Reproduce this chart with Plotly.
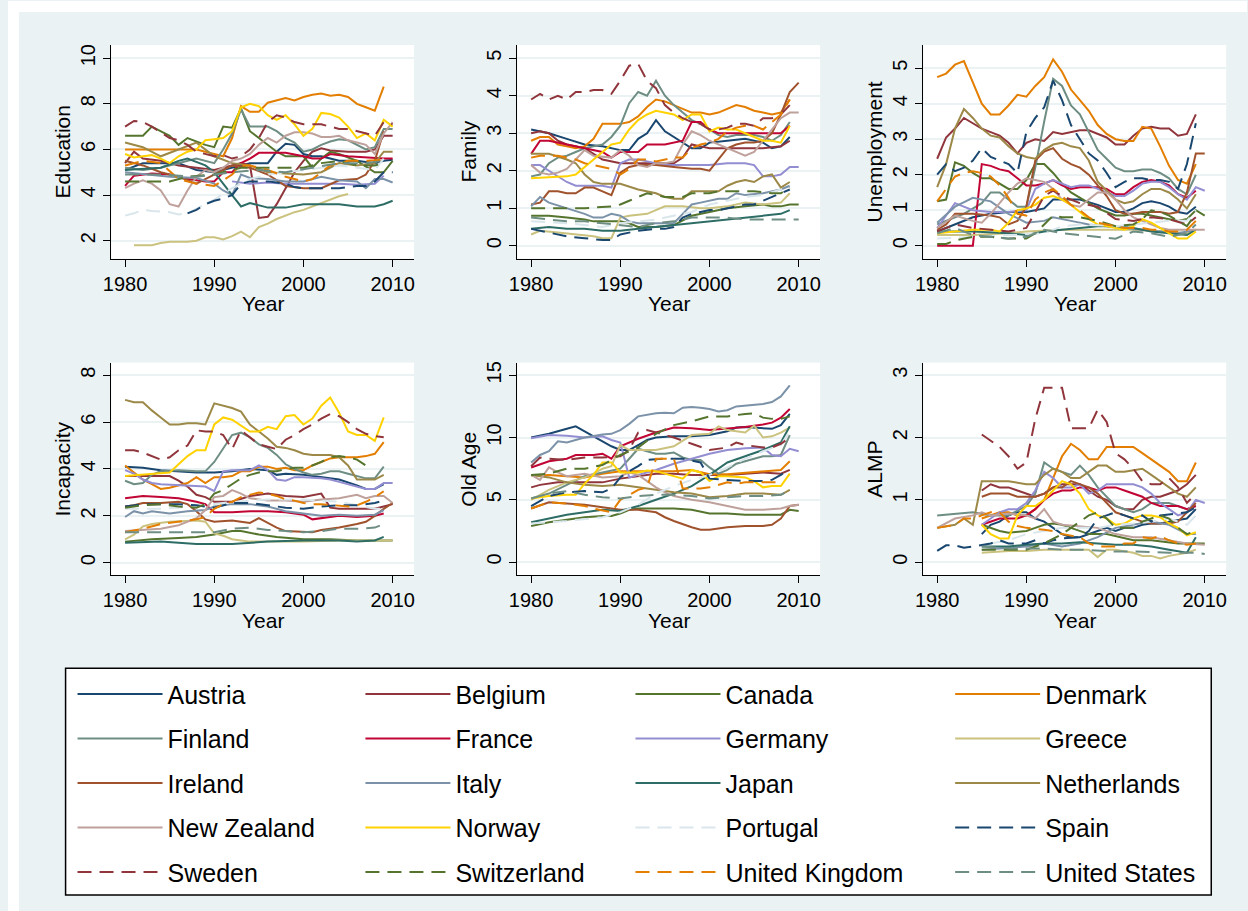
import plotly.graph_objects as go

COUNTRIES = ["Austria", "Belgium", "Canada", "Denmark", "Finland", "France", "Germany", "Greece",
             "Ireland", "Italy", "Japan", "Netherlands", "New Zealand", "Norway", "Portugal", "Spain",
             "Sweden", "Switzerland", "United Kingdom", "United States"]

COLORS = {"Austria": "#1a476f", "Belgium": "#90353b", "Canada": "#55752f", "Denmark": "#e37e00",
          "Finland": "#6e8e84", "France": "#c10534", "Germany": "#938dd2", "Greece": "#cac27e",
          "Ireland": "#a0522d", "Italy": "#7b92a8", "Japan": "#2d6d66", "Netherlands": "#9c8847",
          "New Zealand": "#bfa19c", "Norway": "#ffd200", "Portugal": "#d9e6eb", "Spain": "#1a476f",
          "Sweden": "#90353b", "Switzerland": "#55752f", "United Kingdom": "#e37e00",
          "United States": "#6e8e84"}
DASHED = {"Portugal", "Spain", "Sweden", "Switzerland", "United Kingdom", "United States"}

PANELS = ["Education", "Family", "Unemployment", "Incapacity", "Old Age", "ALMP"]
YTICKS = {"Education": [2, 4, 6, 8, 10], "Family": [0, 1, 2, 3, 4, 5], "Unemployment": [0, 1, 2, 3, 4, 5],
          "Incapacity": [0, 2, 4, 6, 8], "Old Age": [0, 5, 10, 15], "ALMP": [0, 1, 2, 3]}
YRANGE = {"Education": [1.21, 10.58], "Family": [-0.346, 5.354], "Unemployment": [-0.366, 5.656],
          "Incapacity": [-0.54, 8.54], "Old Age": [-1.07, 16.02], "ALMP": [-0.213, 3.204]}
XTICKS = [1980, 1990, 2000, 2010]

EDUCATION = {
    "Austria": [(1980, 5.1), (1982, 5.4), (1986, 5.4), (1988, 5.1), (1990, 5.0), (1992, 5.2), (1994, 5.4), (1996, 5.4), (1997, 5.9), (1998, 6.25), (1999, 6.2), (2000, 5.8), (2001, 5.7), (2002, 5.7), (2003, 5.6), (2004, 5.5), (2006, 5.5), (2008, 5.4), (2009, 5.5), (2010, 5.55)],
    "Belgium": [(1980, 5.4), (1981, 5.9), (1982, 5.6), (1984, 5.5), (1986, 5.3), (1988, 5.2), (1990, 5.1), (1992, 5.3), (1993, 5.4), (1994, 5.3), (1995, 3.0), (1996, 3.05), (1997, 3.6), (1998, 4.3), (1999, 5.0), (2000, 5.5), (2001, 5.9), (2002, 6.05), (2003, 5.95), (2005, 5.9), (2007, 5.9), (2008, 6.0), (2009, 6.6), (2010, 6.6)],
    "Canada": [(1980, 6.6), (1982, 6.6), (1983, 7.0), (1985, 6.6), (1986, 6.2), (1987, 6.5), (1989, 6.2), (1990, 6.1), (1991, 7.0), (1992, 6.95), (1993, 7.8), (1994, 6.8), (1995, 6.5), (1996, 6.2), (1997, 5.9), (1998, 5.7), (2000, 5.7), (2001, 5.2), (2002, 5.6), (2003, 5.9), (2004, 5.8), (2006, 5.5), (2008, 5.0), (2009, 5.0), (2010, 5.5)],
    "Denmark": [(1980, 6.0), (1985, 6.0), (1988, 6.0), (1990, 5.8), (1991, 5.7), (1992, 6.5), (1993, 7.9), (1994, 7.65), (1995, 7.65), (1996, 8.05), (1997, 8.15), (1998, 8.25), (1999, 8.15), (2000, 8.3), (2001, 8.4), (2002, 8.45), (2003, 8.35), (2004, 8.4), (2005, 8.3), (2006, 8.0), (2007, 7.85), (2008, 7.7), (2009, 8.75)],
    "Finland": [(1980, 5.2), (1982, 5.1), (1984, 5.2), (1986, 5.4), (1988, 5.6), (1990, 5.4), (1991, 6.0), (1992, 6.7), (1993, 7.75), (1994, 7.0), (1995, 7.0), (1996, 7.0), (1997, 6.8), (1998, 6.5), (1999, 6.3), (2000, 5.9), (2001, 6.0), (2002, 6.2), (2003, 6.35), (2004, 6.45), (2005, 6.4), (2006, 6.2), (2007, 6.0), (2008, 6.1), (2009, 6.9), (2010, 6.9)],
    "France": [(1980, 4.4), (1981, 4.85), (1983, 4.95), (1985, 4.9), (1987, 4.7), (1989, 4.6), (1990, 4.6), (1991, 5.0), (1992, 5.0), (1993, 5.4), (1994, 5.6), (1995, 5.85), (1996, 5.85), (1998, 5.85), (2000, 5.7), (2001, 5.6), (2002, 5.6), (2003, 5.8), (2005, 5.7), (2007, 5.65), (2008, 5.6), (2009, 5.6), (2010, 5.6)],
    "Germany": [(1992, 4.6), (1994, 4.5), (1996, 4.55), (1998, 4.5), (2000, 4.5), (2002, 4.5), (2004, 4.5), (2006, 4.45), (2008, 4.5), (2009, 4.85)],
    "Greece": [(1981, 1.8), (1983, 1.8), (1984, 1.9), (1985, 1.95), (1987, 1.95), (1988, 2.0), (1989, 2.15), (1990, 2.15), (1991, 2.05), (1992, 2.2), (1993, 2.4), (1994, 2.15), (1995, 2.6), (1996, 2.75), (1997, 2.95), (1998, 3.1), (1999, 3.25), (2000, 3.35), (2001, 3.5), (2002, 3.65), (2003, 3.8), (2004, 3.95), (2005, 4.05)],
    "Ireland": [(1980, 5.5), (1982, 5.3), (1984, 5.0), (1986, 4.8), (1988, 4.5), (1990, 4.9), (1992, 5.3), (1994, 5.2), (1996, 4.9), (1998, 4.4), (2000, 4.3), (2002, 4.3), (2004, 4.65), (2006, 4.7), (2007, 4.9), (2008, 5.5), (2009, 6.8)],
    "Italy": [(1980, 5.0), (1985, 4.8), (1988, 4.75), (1990, 4.5), (1991, 4.2), (1992, 4.0), (1993, 4.9), (1994, 4.75), (1996, 4.7), (1998, 4.6), (2000, 4.6), (2002, 4.8), (2004, 4.65), (2006, 4.6), (2007, 4.3), (2008, 4.7), (2009, 4.7), (2010, 4.55)],
    "Japan": [(1980, 5.1), (1984, 5.2), (1986, 5.5), (1987, 5.6), (1989, 5.3), (1990, 5.0), (1992, 4.0), (1993, 3.5), (1994, 3.65), (1995, 3.55), (1996, 3.45), (1998, 3.45), (2000, 3.6), (2002, 3.6), (2004, 3.6), (2006, 3.5), (2008, 3.5), (2009, 3.6), (2010, 3.75)],
    "Netherlands": [(1980, 6.3), (1982, 6.1), (1984, 5.7), (1986, 6.0), (1988, 6.3), (1990, 5.7), (1992, 5.4), (1994, 5.3), (1996, 5.0), (1998, 4.95), (2000, 4.9), (2002, 5.0), (2004, 5.4), (2006, 5.3), (2008, 5.4), (2009, 5.9), (2010, 5.9)],
    "New Zealand": [(1980, 4.3), (1981, 4.5), (1982, 4.65), (1983, 4.5), (1984, 4.2), (1985, 3.6), (1986, 3.5), (1987, 4.2), (1988, 4.8), (1989, 5.1), (1990, 5.0), (1991, 5.2), (1992, 5.5), (1993, 5.6), (1994, 5.8), (1995, 6.2), (1996, 6.5), (1997, 6.3), (1998, 6.6), (1999, 6.75), (2000, 6.75), (2001, 6.7), (2002, 6.55), (2003, 6.55), (2004, 6.6), (2005, 6.4), (2006, 6.3), (2007, 6.2), (2008, 5.8), (2009, 6.7), (2010, 7.2)],
    "Norway": [(1980, 5.8), (1981, 5.65), (1982, 5.7), (1983, 5.75), (1984, 5.6), (1985, 5.4), (1986, 5.7), (1987, 5.9), (1988, 6.0), (1989, 6.4), (1990, 6.45), (1991, 6.5), (1992, 6.8), (1993, 7.85), (1994, 8.0), (1995, 7.9), (1996, 7.5), (1997, 7.3), (1998, 7.5), (1999, 7.1), (2000, 6.6), (2001, 6.9), (2002, 7.6), (2003, 7.55), (2004, 7.4), (2005, 7.0), (2006, 6.5), (2007, 6.7), (2008, 6.4), (2009, 7.3), (2010, 7.0)],
    "Portugal": [(1980, 3.1), (1981, 3.2), (1982, 3.35), (1983, 3.3), (1985, 3.25), (1986, 3.15), (1987, 3.2), (1988, 3.4), (1990, 3.8), (1992, 4.3), (1994, 4.7), (1996, 4.9), (1998, 5.0), (2000, 5.1), (2002, 5.2), (2004, 5.3), (2006, 5.2), (2008, 5.1), (2009, 5.6)],
    "Spain": [(1987, 3.2), (1988, 3.35), (1989, 3.6), (1990, 3.75), (1991, 3.85), (1992, 4.0), (1993, 4.5), (1994, 4.6), (1995, 4.6), (1996, 4.6), (1997, 4.55), (1998, 4.5), (1999, 4.35), (2000, 4.3), (2002, 4.3), (2004, 4.3), (2006, 4.4), (2007, 4.4), (2008, 4.6), (2009, 5.0), (2010, 5.0)],
    "Sweden": [(1980, 7.0), (1981, 7.25), (1982, 7.2), (1983, 7.0), (1984, 6.75), (1985, 6.5), (1986, 6.4), (1987, 6.2), (1988, 5.9), (1989, 5.8), (1990, 5.7), (1991, 5.75), (1992, 5.6), (1993, 5.7), (1994, 6.0), (1995, 6.5), (1996, 7.2), (1997, 7.5), (1998, 7.4), (1999, 7.2), (2000, 7.1), (2001, 7.1), (2002, 7.1), (2003, 7.0), (2004, 6.9), (2005, 6.9), (2006, 6.8), (2007, 6.7), (2008, 6.6), (2009, 7.2), (2010, 7.1)],
    "Switzerland": [(1980, 4.6), (1982, 4.6), (1985, 4.6), (1987, 4.8), (1990, 4.9), (1993, 5.2), (1996, 5.2), (1998, 5.2), (2000, 5.2), (2002, 5.4), (2004, 5.5), (2006, 5.3), (2008, 5.3), (2009, 5.4)],
    "United Kingdom": [(1980, 5.3), (1982, 5.5), (1984, 5.4), (1986, 4.7), (1988, 4.5), (1990, 4.4), (1992, 4.9), (1993, 5.3), (1994, 5.3), (1996, 5.1), (1998, 4.8), (2000, 4.6), (2001, 4.7), (2002, 5.0), (2003, 5.3), (2005, 5.5), (2007, 5.5), (2009, 5.55)],
    "United States": [(1980, 4.9), (1984, 4.9), (1988, 4.8), (1992, 5.0), (1995, 5.1), (1998, 5.0), (2001, 5.2), (2004, 5.4), (2007, 5.4), (2009, 5.5)],
}

FAMILY = {
    "Austria": [(1980, 3.1), (1982, 3.0), (1984, 2.85), (1986, 2.7), (1988, 2.65), (1990, 2.55), (1991, 2.55), (1992, 2.85), (1993, 3.0), (1994, 3.35), (1995, 3.05), (1996, 2.9), (1997, 2.75), (1998, 2.6), (1999, 2.6), (2000, 2.75), (2002, 2.8), (2004, 2.85), (2006, 2.75), (2007, 2.6), (2008, 2.65), (2009, 2.9)],
    "Belgium": [(1980, 3.0), (1981, 3.05), (1982, 3.0), (1983, 2.8), (1984, 2.7), (1986, 2.6), (1988, 2.3), (1989, 2.25), (1990, 2.2), (1992, 2.2), (1994, 2.2), (1996, 2.2), (1997, 2.35), (1998, 2.7), (1999, 2.65), (2000, 2.6), (2002, 2.6), (2004, 2.6), (2006, 2.6), (2008, 2.65), (2009, 2.8)],
    "Canada": [(1980, 0.8), (1982, 0.8), (1984, 0.75), (1986, 0.7), (1987, 0.65), (1988, 0.65), (1990, 0.65), (1991, 0.6), (1992, 0.5), (1994, 0.5), (1996, 0.55), (1998, 0.8), (2000, 0.9), (2002, 1.0), (2004, 1.05), (2006, 1.1), (2007, 1.05), (2008, 1.05), (2009, 1.1), (2010, 1.1)],
    "Denmark": [(1980, 2.8), (1981, 2.9), (1982, 2.9), (1983, 2.7), (1984, 2.65), (1985, 2.6), (1986, 2.65), (1987, 2.85), (1988, 3.25), (1989, 3.25), (1990, 3.25), (1991, 3.3), (1992, 3.45), (1993, 3.7), (1994, 3.9), (1995, 3.85), (1996, 3.75), (1997, 3.65), (1998, 3.55), (1999, 3.55), (2000, 3.5), (2001, 3.55), (2002, 3.65), (2003, 3.75), (2004, 3.7), (2005, 3.6), (2006, 3.55), (2007, 3.5), (2008, 3.55), (2009, 3.9)],
    "Finland": [(1980, 1.85), (1981, 1.9), (1982, 2.2), (1983, 2.35), (1984, 2.4), (1985, 2.5), (1986, 2.6), (1987, 2.65), (1988, 2.7), (1989, 2.9), (1990, 3.2), (1991, 3.8), (1992, 4.1), (1993, 4.0), (1994, 4.4), (1995, 4.0), (1996, 3.75), (1997, 3.55), (1998, 3.35), (1999, 3.25), (2000, 3.1), (2001, 2.95), (2002, 2.9), (2003, 2.95), (2004, 2.95), (2005, 2.95), (2006, 2.9), (2007, 2.8), (2008, 2.95), (2009, 3.3)],
    "France": [(1980, 2.45), (1981, 2.8), (1982, 2.8), (1984, 2.7), (1986, 2.6), (1988, 2.5), (1989, 2.35), (1990, 2.5), (1992, 2.5), (1993, 2.7), (1995, 2.7), (1997, 2.8), (1998, 3.3), (1999, 3.3), (2000, 3.1), (2001, 3.0), (2003, 3.0), (2005, 3.0), (2007, 3.0), (2008, 3.0), (2009, 3.2)],
    "Germany": [(1980, 2.15), (1981, 2.15), (1982, 2.0), (1983, 1.85), (1984, 1.7), (1985, 1.6), (1986, 1.6), (1988, 1.6), (1989, 1.55), (1990, 2.2), (1991, 2.3), (1992, 2.3), (1993, 2.25), (1994, 2.2), (1995, 2.15), (1996, 2.15), (1998, 2.15), (2000, 2.15), (2002, 2.2), (2003, 2.2), (2004, 2.2), (2005, 2.15), (2006, 1.85), (2007, 1.85), (2008, 1.9), (2009, 2.1), (2010, 2.1)],
    "Greece": [(1980, 0.3), (1981, 0.4), (1983, 0.35), (1985, 0.3), (1987, 0.25), (1988, 0.2), (1989, 0.2), (1990, 0.75), (1991, 0.8), (1993, 0.85), (1994, 0.95), (1995, 1.05), (1997, 1.05), (1999, 1.0), (2000, 1.0), (2002, 1.05), (2004, 1.15), (2006, 1.1), (2008, 1.15), (2009, 1.4)],
    "Ireland": [(1980, 1.1), (1981, 1.15), (1982, 1.45), (1983, 1.45), (1984, 1.4), (1985, 1.4), (1986, 1.55), (1987, 1.55), (1988, 1.45), (1989, 1.35), (1990, 1.95), (1991, 2.1), (1992, 2.15), (1994, 2.15), (1996, 2.1), (1998, 2.05), (1999, 2.05), (2000, 2.0), (2001, 2.3), (2002, 2.6), (2003, 2.7), (2004, 2.75), (2005, 2.75), (2006, 2.8), (2007, 3.0), (2008, 3.5), (2009, 4.1), (2010, 4.35)],
    "Italy": [(1980, 1.05), (1981, 1.3), (1982, 1.15), (1984, 1.0), (1986, 0.85), (1987, 0.75), (1988, 0.75), (1989, 0.85), (1990, 0.8), (1991, 0.65), (1992, 0.6), (1994, 0.6), (1996, 0.6), (1997, 0.85), (1998, 1.1), (1999, 1.15), (2000, 1.2), (2001, 1.25), (2002, 1.25), (2003, 1.4), (2004, 1.35), (2006, 1.4), (2008, 1.5), (2009, 1.6)],
    "Japan": [(1980, 0.45), (1982, 0.5), (1984, 0.45), (1986, 0.45), (1988, 0.4), (1990, 0.4), (1992, 0.45), (1994, 0.5), (1996, 0.55), (1998, 0.6), (2000, 0.65), (2002, 0.7), (2004, 0.75), (2006, 0.8), (2008, 0.85), (2009, 0.95)],
    "Netherlands": [(1980, 2.45), (1982, 2.45), (1984, 2.3), (1985, 2.2), (1986, 1.9), (1987, 1.7), (1988, 1.65), (1990, 1.65), (1992, 1.5), (1994, 1.4), (1995, 1.3), (1996, 1.25), (1997, 1.25), (1998, 1.45), (1999, 1.45), (2001, 1.45), (2002, 1.6), (2003, 1.7), (2004, 1.75), (2005, 1.7), (2006, 1.85), (2007, 1.9), (2008, 1.55), (2009, 1.7)],
    "New Zealand": [(1980, 2.15), (1981, 1.95), (1982, 1.9), (1983, 1.95), (1984, 2.05), (1985, 2.3), (1986, 2.55), (1987, 2.4), (1989, 2.35), (1990, 2.55), (1991, 2.4), (1992, 2.15), (1993, 2.1), (1994, 2.2), (1995, 2.2), (1996, 2.25), (1997, 2.7), (1998, 3.05), (1999, 2.95), (2000, 2.8), (2001, 2.7), (2002, 2.6), (2003, 2.5), (2004, 2.4), (2005, 2.5), (2006, 2.8), (2007, 3.1), (2008, 3.4), (2009, 3.55), (2010, 3.55)],
    "Norway": [(1980, 1.8), (1983, 1.85), (1984, 1.85), (1985, 1.9), (1986, 2.1), (1987, 2.3), (1988, 2.5), (1989, 2.7), (1990, 2.75), (1991, 3.1), (1992, 3.35), (1993, 3.5), (1994, 3.6), (1995, 3.55), (1996, 3.5), (1997, 3.35), (1998, 3.5), (1999, 3.5), (2000, 3.05), (2001, 3.15), (2002, 3.1), (2003, 3.1), (2004, 3.0), (2005, 2.9), (2006, 2.8), (2007, 2.8), (2008, 2.75), (2009, 3.2)],
    "Portugal": [(1980, 0.65), (1984, 0.6), (1988, 0.5), (1990, 0.6), (1994, 0.7), (1998, 0.9), (2000, 1.1), (2002, 1.2), (2004, 1.3), (2006, 1.35), (2008, 1.5), (2009, 1.6)],
    "Spain": [(1980, 0.45), (1982, 0.35), (1984, 0.25), (1986, 0.2), (1988, 0.15), (1989, 0.15), (1990, 0.3), (1992, 0.4), (1994, 0.45), (1995, 0.45), (1996, 0.5), (1997, 0.75), (1998, 0.85), (1999, 0.9), (2000, 0.95), (2001, 0.95), (2002, 1.0), (2003, 1.05), (2004, 1.1), (2005, 1.1), (2006, 1.2), (2007, 1.3), (2008, 1.4), (2009, 1.5)],
    "Sweden": [(1980, 3.9), (1981, 4.05), (1982, 3.9), (1983, 4.0), (1984, 3.9), (1985, 4.1), (1986, 4.1), (1987, 4.15), (1988, 4.15), (1989, 4.05), (1990, 4.4), (1991, 4.8), (1992, 4.85), (1993, 4.4), (1994, 4.2), (1995, 3.75), (1996, 3.55), (1997, 3.4), (1998, 3.3), (1999, 3.25), (2000, 3.1), (2001, 3.1), (2002, 3.15), (2003, 3.25), (2004, 3.25), (2005, 3.2), (2006, 3.4), (2007, 3.4), (2008, 3.5), (2009, 3.75)],
    "Switzerland": [(1980, 1.0), (1983, 1.0), (1986, 1.0), (1989, 1.05), (1990, 1.1), (1991, 1.2), (1992, 1.3), (1993, 1.4), (1994, 1.35), (1995, 1.3), (1997, 1.3), (1998, 1.4), (2000, 1.4), (2001, 1.45), (2003, 1.45), (2005, 1.45), (2007, 1.4), (2008, 1.4), (2009, 1.55)],
    "United Kingdom": [(1980, 2.35), (1981, 2.4), (1983, 2.4), (1985, 2.3), (1986, 2.2), (1987, 2.15), (1988, 2.1), (1989, 2.05), (1990, 1.9), (1991, 2.05), (1992, 2.3), (1993, 2.3), (1994, 2.25), (1995, 2.3), (1996, 2.35), (1997, 2.35), (1998, 2.6), (1999, 2.7), (2000, 2.75), (2001, 2.85), (2002, 3.05), (2003, 3.15), (2004, 3.2), (2005, 3.2), (2006, 3.1), (2007, 3.3), (2008, 3.5), (2009, 3.9)],
    "United States": [(1980, 0.75), (1982, 0.7), (1984, 0.65), (1986, 0.65), (1988, 0.6), (1990, 0.55), (1992, 0.5), (1994, 0.6), (1996, 0.65), (1998, 0.75), (2000, 0.75), (2002, 0.75), (2004, 0.7), (2006, 0.7), (2008, 0.7), (2010, 0.7)],
}

UNEMPLOYMENT = {
    "Austria": [(1980, 0.4), (1982, 0.6), (1984, 0.8), (1986, 0.9), (1988, 0.95), (1990, 0.95), (1992, 1.05), (1993, 1.3), (1994, 1.3), (1996, 1.3), (1998, 1.15), (2000, 0.95), (2001, 0.95), (2002, 1.05), (2003, 1.2), (2004, 1.25), (2005, 1.2), (2006, 1.1), (2007, 0.95), (2008, 0.9), (2009, 1.1)],
    "Belgium": [(1980, 2.45), (1981, 3.05), (1982, 3.3), (1983, 3.6), (1984, 3.45), (1985, 3.3), (1986, 3.2), (1987, 3.1), (1988, 2.9), (1989, 2.6), (1990, 2.9), (1991, 3.0), (1992, 2.95), (1993, 3.2), (1994, 3.15), (1995, 3.2), (1996, 3.25), (1997, 3.25), (1998, 3.15), (1999, 3.05), (2000, 2.85), (2001, 2.85), (2002, 3.1), (2003, 3.3), (2004, 3.35), (2005, 3.3), (2006, 3.3), (2007, 3.1), (2008, 3.15), (2009, 3.7)],
    "Canada": [(1980, 1.25), (1981, 1.3), (1982, 2.35), (1983, 2.25), (1984, 2.05), (1985, 1.9), (1986, 1.9), (1987, 1.75), (1988, 1.6), (1989, 1.6), (1990, 1.85), (1991, 2.3), (1992, 2.3), (1993, 2.05), (1994, 1.75), (1995, 1.5), (1996, 1.35), (1997, 1.2), (1998, 1.05), (1999, 0.95), (2000, 0.85), (2001, 0.85), (2002, 0.9), (2003, 0.9), (2004, 0.85), (2005, 0.8), (2006, 0.75), (2007, 0.7), (2008, 0.75), (2009, 1.0), (2010, 0.85)],
    "Denmark": [(1980, 4.75), (1981, 4.85), (1982, 5.1), (1983, 5.2), (1984, 4.6), (1985, 4.0), (1986, 3.7), (1987, 3.7), (1988, 3.95), (1989, 4.25), (1990, 4.2), (1991, 4.5), (1992, 4.75), (1993, 5.25), (1994, 4.9), (1995, 4.4), (1996, 4.1), (1997, 3.8), (1998, 3.4), (1999, 3.15), (2000, 3.0), (2001, 2.95), (2002, 2.95), (2003, 3.35), (2004, 3.3), (2005, 2.8), (2006, 2.25), (2007, 1.85), (2008, 1.75), (2009, 2.3)],
    "Finland": [(1980, 0.6), (1983, 0.9), (1985, 1.2), (1986, 1.5), (1987, 1.5), (1988, 1.3), (1989, 1.1), (1990, 1.1), (1991, 2.2), (1992, 3.5), (1993, 4.7), (1994, 4.5), (1995, 3.95), (1996, 3.7), (1997, 3.2), (1998, 2.7), (1999, 2.45), (2000, 2.2), (2001, 2.1), (2002, 2.1), (2003, 2.15), (2004, 2.15), (2005, 2.05), (2006, 1.9), (2007, 1.6), (2008, 1.45), (2009, 2.0)],
    "France": [(1980, 0.0), (1981, 0.0), (1982, 0.0), (1983, 0.0), (1984, 0.0), (1985, 2.3), (1986, 2.25), (1987, 2.15), (1988, 2.1), (1989, 1.9), (1990, 1.7), (1991, 1.7), (1992, 1.75), (1993, 1.85), (1994, 1.7), (1995, 1.6), (1996, 1.65), (1997, 1.65), (1998, 1.65), (1999, 1.6), (2000, 1.45), (2001, 1.45), (2002, 1.65), (2003, 1.8), (2004, 1.85), (2005, 1.8), (2006, 1.7), (2007, 1.45), (2008, 1.35), (2009, 1.55)],
    "Germany": [(1980, 0.5), (1982, 1.2), (1984, 1.0), (1986, 0.95), (1988, 0.95), (1990, 1.0), (1991, 1.6), (1992, 1.75), (1993, 1.85), (1994, 1.75), (1995, 1.65), (1996, 1.7), (1997, 1.7), (1998, 1.6), (1999, 1.5), (2000, 1.4), (2001, 1.4), (2002, 1.55), (2003, 1.75), (2004, 1.8), (2005, 1.8), (2006, 1.65), (2007, 1.45), (2008, 1.3), (2009, 1.65), (2010, 1.55)],
    "Greece": [(1980, 0.3), (1984, 0.3), (1988, 0.35), (1990, 0.4), (1994, 0.45), (1998, 0.45), (2002, 0.45), (2006, 0.4), (2008, 0.35), (2009, 0.45)],
    "Ireland": [(1980, 0.45), (1981, 0.6), (1982, 0.9), (1984, 0.9), (1986, 0.85), (1987, 0.8), (1988, 0.6), (1989, 0.7), (1990, 1.1), (1991, 2.4), (1992, 2.65), (1993, 2.75), (1994, 2.45), (1995, 2.3), (1996, 2.2), (1997, 2.0), (1998, 1.7), (1999, 1.4), (2000, 1.0), (2001, 0.9), (2002, 0.9), (2003, 0.95), (2005, 0.95), (2006, 0.9), (2007, 0.95), (2008, 1.5), (2009, 2.6), (2010, 2.6)],
    "Italy": [(1980, 0.65), (1982, 1.1), (1984, 1.35), (1986, 1.25), (1988, 0.9), (1990, 0.65), (1992, 0.7), (1993, 0.8), (1995, 0.7), (1997, 0.6), (1999, 0.55), (2001, 0.5), (2003, 0.45), (2005, 0.4), (2007, 0.35), (2009, 0.45)],
    "Japan": [(1980, 0.4), (1984, 0.4), (1988, 0.35), (1990, 0.3), (1992, 0.4), (1994, 0.45), (1996, 0.5), (1998, 0.55), (2000, 0.55), (2002, 0.5), (2004, 0.4), (2006, 0.35), (2008, 0.3), (2009, 0.45)],
    "Netherlands": [(1980, 1.65), (1981, 2.3), (1982, 3.3), (1983, 3.85), (1984, 3.6), (1985, 3.3), (1986, 3.1), (1987, 3.05), (1988, 2.8), (1989, 2.6), (1990, 2.5), (1991, 2.45), (1992, 2.7), (1993, 2.85), (1994, 2.9), (1995, 2.8), (1996, 2.75), (1997, 2.4), (1998, 1.8), (1999, 1.55), (2000, 1.3), (2001, 1.2), (2002, 1.25), (2003, 1.45), (2004, 1.6), (2005, 1.6), (2006, 1.5), (2007, 1.3), (2008, 1.05), (2009, 1.45)],
    "New Zealand": [(1980, 0.5), (1982, 0.85), (1984, 0.7), (1985, 0.65), (1986, 0.9), (1987, 1.2), (1988, 1.5), (1989, 1.75), (1990, 1.9), (1991, 1.85), (1992, 1.8), (1993, 1.6), (1994, 1.3), (1995, 1.15), (1996, 1.1), (1997, 1.3), (1998, 1.5), (1999, 1.5), (2000, 1.3), (2001, 1.0), (2002, 0.8), (2003, 0.7), (2004, 0.6), (2005, 0.5), (2006, 0.45), (2008, 0.45), (2010, 0.45)],
    "Norway": [(1980, 0.35), (1982, 0.4), (1984, 0.45), (1986, 0.45), (1987, 0.4), (1988, 0.65), (1989, 1.0), (1990, 1.05), (1991, 1.15), (1992, 1.35), (1993, 1.4), (1994, 1.3), (1995, 1.15), (1996, 0.95), (1997, 0.75), (1998, 0.6), (1999, 0.55), (2000, 0.5), (2001, 0.45), (2002, 0.55), (2003, 0.75), (2004, 0.65), (2005, 0.5), (2006, 0.35), (2007, 0.2), (2008, 0.2), (2009, 0.4)],
    "Portugal": [(1980, 0.2), (1984, 0.25), (1988, 0.3), (1992, 0.35), (1994, 0.55), (1996, 0.6), (2000, 0.55), (2004, 0.65), (2006, 0.7), (2008, 0.7), (2009, 1.0)],
    "Spain": [(1980, 2.0), (1981, 2.3), (1982, 2.1), (1983, 2.2), (1984, 2.4), (1985, 2.75), (1986, 2.5), (1987, 2.4), (1988, 2.3), (1989, 2.05), (1990, 3.2), (1991, 3.6), (1992, 3.9), (1993, 4.65), (1994, 4.1), (1995, 3.4), (1996, 3.0), (1997, 2.6), (1998, 2.4), (1999, 2.05), (2000, 1.65), (2001, 1.8), (2002, 1.9), (2003, 1.9), (2004, 1.85), (2005, 1.85), (2006, 1.8), (2007, 1.6), (2008, 2.3), (2009, 3.45)],
    "Sweden": [(1980, 0.4), (1982, 0.6), (1984, 0.5), (1988, 0.4), (1990, 0.5), (1992, 1.4), (1993, 1.55), (1994, 1.4), (1996, 1.2), (1998, 1.1), (2000, 0.75), (2002, 0.7), (2004, 0.8), (2006, 0.75), (2008, 0.6), (2009, 0.8)],
    "Switzerland": [(1980, 0.05), (1981, 0.05), (1982, 0.15), (1984, 0.25), (1986, 0.25), (1988, 0.2), (1990, 0.2), (1991, 0.35), (1992, 0.6), (1993, 0.85), (1994, 0.8), (1996, 0.8), (1998, 0.7), (2000, 0.55), (2002, 0.6), (2003, 0.75), (2004, 1.0), (2005, 0.95), (2006, 0.85), (2007, 0.7), (2008, 0.55), (2009, 0.9)],
    "United Kingdom": [(1980, 1.25), (1981, 1.6), (1982, 1.95), (1983, 2.05), (1984, 2.1), (1985, 2.05), (1986, 1.95), (1987, 1.7), (1988, 1.35), (1989, 0.9), (1990, 0.85), (1991, 1.3), (1992, 1.5), (1993, 1.6), (1994, 1.4), (1995, 1.15), (1996, 1.0), (1997, 0.8), (1998, 0.65), (1999, 0.6), (2000, 0.55), (2001, 0.5), (2003, 0.5), (2004, 0.45), (2005, 0.45), (2006, 0.4), (2007, 0.4), (2008, 0.45), (2009, 0.7)],
    "United States": [(1980, 0.35), (1982, 0.5), (1984, 0.3), (1986, 0.25), (1988, 0.2), (1990, 0.25), (1992, 0.45), (1994, 0.35), (1996, 0.3), (1998, 0.25), (2000, 0.2), (2002, 0.4), (2004, 0.35), (2006, 0.25), (2008, 0.35), (2009, 0.6)],
}

INCAPACITY = {
    "Austria": [(1980, 4.1), (1982, 4.05), (1984, 3.95), (1986, 3.9), (1988, 3.85), (1990, 3.85), (1992, 3.9), (1994, 4.0), (1996, 3.95), (1997, 3.75), (1998, 3.8), (2000, 3.75), (2002, 3.65), (2004, 3.55), (2006, 3.3), (2007, 3.15), (2008, 3.15), (2009, 3.35)],
    "Belgium": [(1980, 3.7), (1982, 3.7), (1985, 3.7), (1986, 3.5), (1987, 3.25), (1988, 2.9), (1989, 2.8), (1990, 2.6), (1992, 2.6), (1994, 2.85), (1996, 2.95), (1998, 2.85), (2000, 2.8), (2002, 2.95), (2003, 2.35), (2004, 2.3), (2006, 2.3), (2008, 2.3), (2009, 2.4), (2010, 2.5)],
    "Canada": [(1980, 0.9), (1983, 1.0), (1986, 1.05), (1988, 1.1), (1990, 1.2), (1992, 1.35), (1993, 1.35), (1995, 1.2), (1997, 1.1), (2000, 1.0), (2003, 1.0), (2006, 0.95), (2008, 0.95), (2010, 0.95)],
    "Denmark": [(1980, 4.15), (1981, 3.85), (1982, 3.55), (1983, 3.35), (1984, 3.15), (1985, 3.2), (1986, 3.3), (1987, 3.4), (1988, 3.65), (1989, 3.4), (1990, 3.65), (1991, 3.65), (1992, 3.7), (1993, 3.9), (1994, 3.9), (1995, 4.1), (1996, 4.1), (1997, 4.0), (1998, 4.05), (1999, 3.95), (2000, 3.95), (2001, 4.15), (2002, 4.3), (2003, 4.45), (2004, 4.5), (2005, 4.5), (2006, 4.5), (2007, 4.55), (2008, 4.65), (2009, 5.15)],
    "Finland": [(1980, 3.5), (1981, 3.35), (1982, 3.4), (1983, 3.75), (1984, 3.9), (1986, 3.95), (1988, 3.9), (1989, 3.9), (1990, 4.3), (1991, 4.9), (1992, 5.45), (1993, 5.55), (1994, 5.35), (1995, 5.05), (1996, 4.9), (1997, 4.6), (1998, 4.2), (1999, 4.0), (2000, 3.85), (2001, 3.75), (2002, 3.8), (2003, 3.9), (2004, 3.9), (2005, 3.8), (2006, 3.7), (2007, 3.6), (2008, 3.6), (2009, 4.1)],
    "France": [(1980, 2.75), (1982, 2.85), (1984, 2.8), (1986, 2.75), (1988, 2.6), (1989, 2.5), (1990, 2.15), (1992, 2.15), (1994, 2.2), (1996, 2.2), (1998, 2.15), (2000, 2.05), (2001, 1.85), (2002, 1.9), (2004, 2.0), (2006, 1.95), (2008, 2.0), (2009, 2.1)],
    "Germany": [(1980, 3.95), (1981, 3.8), (1982, 3.55), (1983, 3.4), (1984, 3.35), (1986, 3.3), (1988, 3.25), (1989, 3.25), (1990, 3.05), (1991, 3.9), (1992, 3.95), (1994, 3.95), (1995, 4.15), (1996, 3.95), (1997, 3.55), (1998, 3.5), (1999, 3.65), (2000, 3.65), (2002, 3.6), (2003, 3.55), (2004, 3.45), (2005, 3.35), (2006, 3.25), (2007, 3.15), (2008, 3.15), (2009, 3.4), (2010, 3.4)],
    "Greece": [(1980, 1.0), (1981, 1.2), (1982, 1.55), (1983, 1.65), (1985, 1.75), (1987, 1.8), (1988, 1.8), (1989, 1.75), (1990, 1.25), (1991, 1.15), (1992, 1.0), (1993, 0.95), (1994, 0.9), (1996, 0.9), (2000, 0.9), (2004, 0.95), (2008, 0.95), (2010, 0.95)],
    "Ireland": [(1980, 2.4), (1981, 2.45), (1982, 2.55), (1984, 2.55), (1986, 2.6), (1987, 2.5), (1988, 2.2), (1989, 1.85), (1990, 1.75), (1992, 1.8), (1993, 1.75), (1994, 1.7), (1995, 1.9), (1996, 1.7), (1997, 1.5), (1998, 1.35), (2000, 1.3), (2001, 1.3), (2002, 1.4), (2004, 1.5), (2006, 1.65), (2007, 1.75), (2008, 2.0), (2009, 2.3), (2010, 2.55)],
    "Italy": [(1980, 1.95), (1981, 2.2), (1982, 2.1), (1983, 2.2), (1985, 2.1), (1987, 2.2), (1989, 2.25), (1990, 2.4), (1992, 2.5), (1994, 2.5), (1996, 2.4), (1998, 2.2), (2000, 2.1), (2002, 2.0), (2004, 2.05), (2006, 2.0), (2008, 2.05), (2009, 2.25)],
    "Japan": [(1980, 0.85), (1984, 0.9), (1988, 0.8), (1992, 0.8), (1996, 0.9), (2000, 0.95), (2004, 0.95), (2006, 0.9), (2008, 0.95), (2009, 1.1)],
    "Netherlands": [(1980, 6.95), (1981, 6.85), (1982, 6.85), (1983, 6.5), (1984, 6.2), (1985, 5.9), (1986, 5.9), (1987, 5.95), (1988, 5.95), (1989, 5.9), (1990, 6.8), (1991, 6.7), (1992, 6.6), (1993, 6.45), (1994, 5.9), (1995, 5.6), (1996, 5.3), (1997, 4.95), (1998, 4.9), (1999, 4.8), (2000, 4.65), (2001, 4.6), (2003, 4.6), (2004, 4.5), (2005, 4.15), (2006, 3.55), (2008, 3.55), (2009, 3.75)],
    "New Zealand": [(1980, 1.35), (1982, 1.4), (1984, 1.45), (1986, 1.6), (1988, 1.9), (1989, 2.25), (1990, 2.8), (1991, 2.85), (1992, 3.1), (1993, 2.95), (1994, 2.75), (1996, 2.65), (1998, 2.65), (2000, 2.6), (2002, 2.7), (2004, 2.75), (2006, 2.9), (2007, 2.75), (2008, 2.85), (2009, 2.85), (2010, 2.55)],
    "Norway": [(1980, 3.7), (1982, 3.75), (1984, 3.8), (1985, 3.85), (1986, 4.2), (1987, 4.55), (1988, 4.8), (1989, 4.8), (1990, 5.9), (1991, 6.2), (1992, 6.1), (1993, 5.85), (1994, 5.6), (1995, 5.6), (1996, 5.8), (1997, 5.7), (1998, 6.25), (1999, 6.3), (2000, 5.9), (2001, 6.15), (2002, 6.7), (2003, 7.05), (2004, 6.4), (2005, 5.6), (2006, 5.45), (2007, 5.45), (2008, 5.2), (2009, 6.2)],
    "Portugal": [(1980, 2.3), (1984, 2.3), (1988, 2.4), (1992, 2.6), (1996, 2.7), (2000, 2.7), (2004, 2.6), (2008, 2.3), (2009, 2.3)],
    "Spain": [(1980, 2.4), (1982, 2.5), (1984, 2.5), (1986, 2.5), (1988, 2.45), (1990, 2.35), (1992, 2.55), (1994, 2.55), (1996, 2.45), (1998, 2.35), (2000, 2.3), (2002, 2.4), (2004, 2.45), (2006, 2.45), (2008, 2.55), (2009, 2.65)],
    "Sweden": [(1980, 4.8), (1981, 4.8), (1982, 4.7), (1983, 4.55), (1984, 4.4), (1985, 4.5), (1986, 4.8), (1987, 5.0), (1988, 5.65), (1989, 5.6), (1990, 5.6), (1991, 5.45), (1992, 4.85), (1993, 5.65), (1994, 5.35), (1995, 5.05), (1996, 4.95), (1997, 4.85), (1998, 5.25), (1999, 5.45), (2000, 5.7), (2001, 5.9), (2002, 6.15), (2003, 6.35), (2004, 6.25), (2005, 6.0), (2006, 5.7), (2007, 5.5), (2008, 5.4), (2009, 5.35)],
    "Switzerland": [(1980, 2.35), (1982, 2.45), (1984, 2.5), (1986, 2.4), (1988, 2.35), (1989, 2.5), (1990, 2.95), (1991, 3.1), (1992, 3.35), (1993, 3.6), (1994, 3.75), (1995, 3.85), (1996, 3.9), (1997, 3.9), (1998, 4.0), (1999, 4.05), (2000, 4.05), (2001, 4.15), (2002, 4.3), (2003, 4.5), (2004, 4.55), (2005, 4.5), (2006, 4.4), (2007, 4.15)],
    "United Kingdom": [(1980, 1.3), (1982, 1.45), (1984, 1.65), (1986, 1.75), (1988, 1.85), (1989, 1.95), (1990, 2.3), (1991, 2.5), (1992, 2.6), (1993, 2.8), (1994, 2.9), (1995, 3.0), (1996, 2.95), (1997, 2.85), (1998, 2.7), (1999, 2.65), (2000, 2.55), (2001, 2.5), (2002, 2.5), (2004, 2.45), (2005, 2.4), (2006, 2.45), (2007, 2.6), (2008, 2.8), (2009, 3.05)],
    "United States": [(1980, 1.3), (1984, 1.3), (1988, 1.3), (1990, 1.3), (1992, 1.45), (1994, 1.5), (1996, 1.4), (1998, 1.35), (2000, 1.3), (2002, 1.35), (2004, 1.45), (2006, 1.45), (2008, 1.5), (2009, 1.65)],
}

OLD_AGE = {
    "Austria": [(1980, 10.0), (1982, 10.3), (1984, 10.7), (1985, 10.9), (1986, 10.5), (1987, 10.1), (1988, 9.7), (1989, 9.3), (1990, 9.0), (1991, 9.0), (1992, 9.4), (1993, 9.8), (1994, 10.0), (1996, 10.1), (1998, 10.1), (2000, 10.2), (2002, 10.5), (2003, 10.8), (2004, 10.85), (2006, 10.75), (2007, 10.7), (2008, 11.0), (2009, 11.9)],
    "Belgium": [(1980, 6.0), (1981, 6.2), (1983, 6.4), (1985, 6.4), (1988, 6.4), (1990, 6.7), (1992, 6.9), (1994, 7.1), (1996, 7.1), (1998, 7.0), (2000, 7.0), (2002, 7.0), (2004, 7.1), (2006, 7.2), (2008, 7.1), (2009, 7.4)],
    "Canada": [(1980, 2.9), (1982, 3.2), (1984, 3.4), (1986, 3.6), (1988, 3.7), (1989, 3.7), (1990, 3.9), (1991, 4.2), (1992, 4.3), (1994, 4.3), (1996, 4.3), (1998, 4.2), (2000, 3.9), (2002, 3.9), (2004, 3.8), (2006, 3.8), (2008, 3.8), (2009, 4.2), (2010, 4.1)],
    "Denmark": [(1980, 6.95), (1982, 7.0), (1984, 6.9), (1986, 6.8), (1988, 7.1), (1990, 7.3), (1992, 7.3), (1994, 7.3), (1996, 7.3), (1998, 7.4), (2000, 7.05), (2002, 7.05), (2004, 7.15), (2006, 7.3), (2008, 7.4), (2009, 8.1)],
    "Finland": [(1980, 5.1), (1982, 5.5), (1984, 6.2), (1986, 6.9), (1988, 7.2), (1990, 7.5), (1991, 8.3), (1992, 9.1), (1993, 8.9), (1994, 8.7), (1995, 8.7), (1996, 8.8), (1997, 8.4), (1998, 8.2), (1999, 8.2), (2000, 7.6), (2001, 7.1), (2002, 7.4), (2003, 7.9), (2004, 8.1), (2005, 8.3), (2006, 8.5), (2007, 8.5), (2008, 8.6), (2009, 10.2)],
    "France": [(1980, 7.6), (1982, 8.1), (1984, 8.3), (1985, 8.6), (1987, 8.6), (1988, 8.7), (1989, 8.3), (1990, 9.3), (1992, 9.9), (1994, 10.4), (1996, 10.8), (1998, 10.75), (2000, 10.6), (2002, 10.7), (2004, 10.85), (2006, 11.05), (2007, 11.2), (2008, 11.6), (2009, 12.3)],
    "Germany": [(1980, 9.95), (1982, 10.2), (1984, 10.15), (1986, 10.0), (1988, 10.1), (1989, 9.8), (1990, 9.6), (1991, 6.8), (1992, 7.0), (1993, 7.2), (1994, 7.4), (1996, 7.9), (1998, 8.3), (2000, 8.7), (2002, 9.0), (2004, 9.15), (2006, 9.2), (2007, 8.6), (2008, 8.5), (2009, 9.1), (2010, 8.9)],
    "Greece": [(1980, 5.0), (1982, 5.8), (1984, 6.4), (1986, 6.8), (1987, 7.1), (1988, 7.5), (1989, 7.7), (1990, 9.4), (1991, 9.0), (1992, 9.0), (1994, 9.0), (1996, 9.3), (1998, 10.2), (2000, 10.3), (2001, 10.9), (2002, 10.6), (2003, 10.5), (2004, 10.4), (2005, 10.95), (2006, 10.0), (2007, 10.1), (2008, 10.4), (2009, 10.8)],
    "Ireland": [(1980, 4.3), (1982, 4.8), (1984, 4.7), (1986, 4.6), (1988, 4.4), (1990, 4.2), (1992, 4.2), (1994, 4.0), (1995, 3.6), (1996, 3.3), (1998, 2.8), (1999, 2.6), (2000, 2.6), (2002, 2.8), (2004, 2.9), (2006, 2.9), (2007, 3.0), (2008, 3.5), (2009, 4.5), (2010, 4.6)],
    "Italy": [(1980, 8.0), (1981, 8.6), (1982, 8.9), (1983, 9.7), (1984, 9.6), (1985, 9.8), (1986, 10.0), (1988, 10.25), (1989, 10.3), (1990, 10.6), (1991, 11.1), (1992, 11.7), (1993, 11.85), (1994, 11.95), (1995, 12.0), (1996, 11.95), (1997, 12.4), (1998, 12.45), (1999, 12.4), (2000, 12.3), (2001, 12.1), (2002, 12.2), (2003, 12.5), (2004, 12.55), (2005, 12.6), (2006, 12.7), (2007, 12.85), (2008, 13.3), (2009, 14.2)],
    "Japan": [(1980, 3.2), (1982, 3.5), (1984, 3.8), (1986, 4.0), (1988, 4.2), (1990, 4.1), (1992, 4.5), (1994, 5.0), (1996, 5.5), (1998, 6.1), (2000, 7.0), (2002, 8.0), (2004, 8.5), (2006, 9.0), (2008, 9.6), (2009, 10.9)],
    "Netherlands": [(1980, 7.0), (1982, 6.8), (1984, 6.4), (1986, 6.2), (1988, 6.1), (1990, 6.2), (1992, 6.0), (1994, 5.8), (1996, 5.6), (1998, 5.5), (2000, 5.2), (2002, 5.3), (2004, 5.5), (2006, 5.5), (2008, 5.4), (2009, 5.8)],
    "New Zealand": [(1980, 7.0), (1981, 6.6), (1982, 7.6), (1983, 7.2), (1984, 6.9), (1986, 7.1), (1988, 6.8), (1990, 6.9), (1991, 7.2), (1992, 7.0), (1993, 6.5), (1994, 6.0), (1995, 5.6), (1996, 5.3), (1998, 5.0), (2000, 4.8), (2002, 4.5), (2004, 4.2), (2006, 4.2), (2008, 4.3), (2009, 4.5), (2010, 4.6)],
    "Norway": [(1980, 5.1), (1982, 5.3), (1984, 5.4), (1985, 5.4), (1986, 6.3), (1987, 7.0), (1988, 8.0), (1989, 8.0), (1990, 7.2), (1992, 7.2), (1993, 7.35), (1994, 7.3), (1995, 7.1), (1996, 6.9), (1997, 6.7), (1998, 7.4), (1999, 7.2), (2000, 6.5), (2001, 6.9), (2002, 6.9), (2004, 6.8), (2005, 6.5), (2006, 6.0), (2007, 6.1), (2008, 6.1), (2009, 7.1)],
    "Portugal": [(1980, 3.1), (1984, 3.3), (1988, 3.6), (1990, 4.0), (1992, 4.6), (1994, 5.5), (1996, 6.1), (1998, 6.6), (2000, 7.0), (2002, 7.6), (2004, 8.3), (2006, 8.9), (2008, 9.4), (2009, 10.5)],
    "Spain": [(1980, 4.5), (1982, 5.3), (1984, 5.6), (1986, 5.7), (1988, 5.6), (1989, 5.9), (1990, 6.8), (1991, 7.3), (1992, 7.7), (1993, 8.2), (1995, 8.3), (1997, 8.3), (1999, 8.0), (2000, 6.7), (2002, 6.6), (2004, 6.5), (2006, 6.5), (2007, 6.6), (2008, 7.0), (2009, 7.4)],
    "Sweden": [(1980, 7.7), (1981, 8.4), (1982, 8.3), (1984, 8.2), (1986, 8.4), (1988, 8.4), (1990, 8.5), (1991, 9.0), (1992, 10.4), (1993, 10.6), (1994, 10.4), (1995, 10.2), (1996, 10.0), (1998, 9.5), (2000, 9.0), (2002, 9.2), (2003, 9.6), (2004, 9.4), (2006, 9.2), (2007, 9.2), (2008, 9.5), (2009, 10.0)],
    "Switzerland": [(1980, 7.0), (1982, 7.1), (1984, 7.5), (1986, 7.5), (1988, 7.8), (1990, 8.6), (1992, 9.2), (1994, 10.3), (1996, 11.0), (1998, 11.3), (2000, 11.7), (2002, 11.7), (2004, 11.9), (2005, 11.95), (2006, 11.6), (2007, 11.5), (2008, 11.5), (2009, 11.7)],
    "United Kingdom": [(1980, 4.3), (1982, 4.8), (1984, 4.7), (1986, 4.5), (1987, 4.3), (1989, 4.0), (1990, 5.0), (1991, 5.4), (1992, 5.8), (1993, 6.0), (1994, 8.3), (1995, 8.3), (1996, 8.3), (1997, 5.9), (1999, 5.9), (2000, 6.0), (2001, 6.2), (2002, 6.4), (2003, 6.3), (2004, 6.4), (2006, 6.4), (2008, 6.4)],
    "United States": [(1980, 5.1), (1982, 5.5), (1984, 5.7), (1986, 5.4), (1988, 5.2), (1990, 5.1), (1992, 5.3), (1994, 5.4), (1996, 5.4), (1998, 5.3), (2000, 5.1), (2002, 5.2), (2004, 5.3), (2006, 5.3), (2008, 5.4), (2009, 5.8)],
}

ALMP = {
    "Austria": [(1985, 0.45), (1986, 0.6), (1987, 0.65), (1988, 0.75), (1989, 0.8), (1990, 0.8), (1991, 0.7), (1992, 0.65), (1994, 0.45), (1995, 0.4), (1996, 0.4), (1997, 0.45), (1998, 0.5), (1999, 0.55), (2000, 0.5), (2001, 0.55), (2002, 0.55), (2003, 0.6), (2004, 0.62), (2005, 0.62), (2006, 0.65), (2007, 0.68), (2008, 0.7), (2009, 0.85)],
    "Belgium": [(1985, 1.15), (1986, 1.25), (1987, 1.2), (1988, 1.2), (1989, 1.15), (1990, 1.1), (1991, 1.05), (1992, 1.1), (1993, 1.2), (1994, 1.25), (1996, 1.25), (1997, 1.15), (1998, 1.05), (1999, 1.0), (2000, 0.9), (2001, 0.85), (2002, 0.85), (2003, 1.0), (2004, 1.05), (2005, 1.05), (2006, 1.1), (2007, 1.15), (2008, 1.25), (2009, 1.4)],
    "Canada": [(1985, 0.6), (1986, 0.55), (1987, 0.5), (1988, 0.47), (1989, 0.48), (1990, 0.5), (1991, 0.55), (1992, 0.6), (1993, 0.62), (1994, 0.6), (1995, 0.55), (1996, 0.5), (1997, 0.45), (1999, 0.45), (2000, 0.42), (2001, 0.38), (2002, 0.35), (2004, 0.35), (2005, 0.33), (2006, 0.32), (2007, 0.3), (2010, 0.3)],
    "Denmark": [(1985, 0.7), (1986, 0.75), (1987, 0.8), (1988, 0.8), (1989, 0.75), (1990, 0.75), (1991, 0.85), (1992, 1.0), (1993, 1.35), (1994, 1.7), (1995, 1.9), (1996, 1.8), (1997, 1.65), (1998, 1.65), (1999, 1.85), (2000, 1.85), (2002, 1.85), (2003, 1.75), (2004, 1.65), (2005, 1.55), (2006, 1.45), (2007, 1.3), (2008, 1.3), (2009, 1.6)],
    "Finland": [(1980, 0.75), (1982, 0.77), (1984, 0.8), (1986, 0.75), (1988, 0.75), (1990, 0.9), (1991, 1.1), (1992, 1.6), (1993, 1.5), (1994, 1.45), (1995, 1.4), (1996, 1.55), (1997, 1.4), (1998, 1.2), (1999, 1.05), (2000, 0.9), (2001, 0.85), (2002, 0.8), (2003, 0.85), (2004, 0.95), (2006, 0.95), (2007, 0.9), (2008, 0.85), (2009, 0.9)],
    "France": [(1985, 0.6), (1986, 0.65), (1987, 0.7), (1989, 0.7), (1990, 0.75), (1991, 0.85), (1992, 1.0), (1993, 1.1), (1994, 1.15), (1995, 1.15), (1996, 1.2), (1997, 1.2), (1998, 1.15), (1999, 1.2), (2000, 1.2), (2001, 1.15), (2002, 1.1), (2003, 1.05), (2004, 0.95), (2005, 0.9), (2007, 0.9), (2008, 0.85), (2009, 0.9)],
    "Germany": [(1985, 0.6), (1986, 0.7), (1987, 0.8), (1988, 0.85), (1989, 0.85), (1990, 0.95), (1991, 1.15), (1992, 1.45), (1993, 1.35), (1994, 1.2), (1995, 1.2), (1996, 1.25), (1997, 1.1), (1998, 1.15), (1999, 1.25), (2002, 1.25), (2003, 1.2), (2004, 1.1), (2005, 0.95), (2006, 0.85), (2007, 0.75), (2008, 0.8), (2009, 1.0), (2010, 0.95)],
    "Greece": [(1985, 0.15), (1988, 0.18), (1990, 0.18), (1992, 0.2), (1994, 0.2), (1997, 0.2), (1998, 0.08), (1999, 0.2), (2000, 0.2), (2002, 0.15), (2003, 0.1), (2004, 0.1), (2005, 0.06), (2006, 0.1), (2008, 0.15), (2009, 0.2)],
    "Ireland": [(1985, 1.05), (1986, 1.1), (1988, 1.1), (1989, 1.05), (1991, 1.05), (1992, 1.1), (1993, 1.2), (1994, 1.2), (1995, 1.3), (1996, 1.25), (1997, 1.2), (1998, 1.1), (1999, 0.95), (2000, 0.8), (2001, 0.75), (2002, 0.7), (2003, 0.65), (2004, 0.62), (2006, 0.62), (2007, 0.65), (2008, 0.8), (2009, 0.95)],
    "Italy": [(1985, 0.2), (1990, 0.25), (1992, 0.3), (1994, 0.25), (1996, 0.3), (1998, 0.4), (2000, 0.55), (2002, 0.6), (2004, 0.65), (2006, 0.6), (2008, 0.45), (2009, 0.45)],
    "Japan": [(1985, 0.25), (1988, 0.25), (1990, 0.28), (1992, 0.3), (1994, 0.3), (1996, 0.32), (1998, 0.3), (2000, 0.28), (2002, 0.28), (2004, 0.25), (2006, 0.2), (2008, 0.15), (2009, 0.4)],
    "Netherlands": [(1980, 0.55), (1982, 0.6), (1983, 0.7), (1984, 0.6), (1985, 1.3), (1986, 1.3), (1988, 1.3), (1990, 1.25), (1991, 1.25), (1992, 1.4), (1993, 1.5), (1994, 1.45), (1995, 1.35), (1996, 1.35), (1997, 1.45), (1998, 1.55), (1999, 1.55), (2000, 1.45), (2001, 1.45), (2003, 1.5), (2004, 1.4), (2005, 1.3), (2006, 1.2), (2007, 1.1), (2008, 1.05), (2009, 1.2)],
    "New Zealand": [(1980, 0.55), (1982, 0.7), (1984, 0.75), (1985, 0.8), (1986, 0.75), (1988, 0.78), (1990, 0.75), (1991, 0.7), (1992, 0.85), (1993, 0.65), (1994, 0.6), (1996, 0.58), (1998, 0.55), (2000, 0.45), (2002, 0.4), (2004, 0.4), (2006, 0.35), (2008, 0.3), (2010, 0.28)],
    "Norway": [(1985, 0.6), (1986, 0.45), (1987, 0.38), (1988, 0.38), (1989, 0.75), (1990, 0.9), (1991, 0.9), (1992, 1.0), (1993, 1.15), (1994, 1.3), (1995, 1.25), (1996, 1.1), (1997, 0.85), (1998, 0.75), (1999, 0.7), (2000, 0.6), (2001, 0.62), (2002, 0.7), (2003, 0.75), (2004, 0.75), (2005, 0.72), (2006, 0.62), (2007, 0.55), (2008, 0.43), (2009, 0.48)],
    "Portugal": [(1986, 0.3), (1988, 0.35), (1990, 0.45), (1992, 0.5), (1994, 0.55), (1998, 0.55), (2000, 0.6), (2002, 0.62), (2004, 0.65), (2006, 0.7), (2008, 0.6), (2009, 0.75)],
    "Spain": [(1980, 0.18), (1981, 0.27), (1982, 0.27), (1983, 0.23), (1984, 0.25), (1985, 0.28), (1986, 0.3), (1987, 0.35), (1988, 0.3), (1990, 0.3), (1991, 0.35), (1992, 0.3), (1993, 0.35), (1994, 0.38), (1996, 0.4), (1997, 0.5), (1998, 0.7), (1999, 0.75), (2000, 0.8), (2001, 0.75), (2002, 0.7), (2003, 0.75), (2004, 0.65), (2005, 0.75), (2007, 0.78), (2008, 0.8), (2009, 0.88)],
    "Sweden": [(1985, 2.05), (1986, 1.95), (1987, 1.85), (1988, 1.7), (1989, 1.5), (1990, 1.6), (1991, 2.3), (1992, 2.8), (1993, 2.8), (1994, 2.8), (1995, 2.15), (1997, 2.15), (1998, 2.45), (1999, 2.25), (2000, 1.75), (2001, 1.65), (2002, 1.5), (2003, 1.3), (2004, 1.25), (2005, 1.25), (2006, 1.35), (2007, 1.2), (2008, 0.95), (2009, 1.1)],
    "Switzerland": [(1985, 0.2), (1988, 0.2), (1990, 0.2), (1992, 0.3), (1994, 0.45), (1996, 0.65), (1997, 0.75), (1998, 0.8), (1999, 0.7), (2000, 0.55), (2002, 0.55), (2003, 0.65), (2004, 0.7), (2005, 0.75), (2006, 0.7), (2007, 0.55), (2008, 0.45), (2009, 0.5)],
    "United Kingdom": [(1980, 0.55), (1982, 0.6), (1983, 0.7), (1984, 0.7), (1985, 0.75), (1986, 0.8), (1987, 0.8), (1988, 0.65), (1989, 0.58), (1990, 0.55), (1992, 0.52), (1993, 0.5), (1994, 0.45), (1996, 0.4), (1997, 0.3), (1998, 0.25), (2000, 0.25), (2001, 0.3), (2002, 0.3), (2003, 0.4), (2004, 0.38), (2005, 0.42), (2006, 0.35), (2007, 0.3), (2008, 0.28), (2009, 0.3)],
    "United States": [(1985, 0.25), (1988, 0.22), (1992, 0.22), (1994, 0.2), (1996, 0.2), (1998, 0.18), (2000, 0.17), (2002, 0.17), (2004, 0.16), (2006, 0.15), (2009, 0.15), (2010, 0.13)],
}

DATA = {"Education": EDUCATION, "Family": FAMILY, "Unemployment": UNEMPLOYMENT,
        "Incapacity": INCAPACITY, "Old Age": OLD_AGE, "ALMP": ALMP}

# ---------------- layout geometry (screen pixels of the reference) ----------------
W, H = 1248, 911
BG = "#eaf2f3"
COL_X = [(104, 409), (513, 818), (922, 1227)]
ROW_Y = [(44, 258), (362, 575)]
FONT = "Liberation Sans, Arial, sans-serif"


def fx(p):
    return p / W


def fy(p):
    return 1 - p / H


fig = go.Figure()
layout = dict(
    width=W, height=H, margin=dict(l=0, r=0, t=0, b=0),
    paper_bgcolor=BG, plot_bgcolor="white",
    font=dict(family=FONT, color="black"),
    showlegend=True,
)

LEGEND_COLS = [
    ["Austria", "Finland", "Ireland", "New Zealand", "Sweden"],
    ["Belgium", "France", "Italy", "Norway", "Switzerland"],
    ["Canada", "Germany", "Japan", "Portugal", "United Kingdom"],
    ["Denmark", "Greece", "Netherlands", "Spain", "United States"],
]
LEGEND_X = [78, 368, 640, 962]
legend_of = {}
for i, col in enumerate(LEGEND_COLS):
    for c in col:
        legend_of[c] = "legend" if i == 0 else "legend%d" % (i + 1)

annotations = []
for k, panel in enumerate(PANELS):
    r, c = divmod(k, 3)
    idx = "" if k == 0 else str(k + 1)
    xa, ya = "xaxis" + idx, "yaxis" + idx
    x0, x1 = COL_X[c]
    y0, y1 = ROW_Y[r]
    layout[xa] = dict(
        domain=[fx(x0), fx(x1)], anchor="y" + idx, range=[1978.45, 2012.4],
        tickvals=XTICKS, ticks="outside", ticklen=7, tickcolor="black", tickwidth=1,
        showline=True, linecolor="black", linewidth=1, showgrid=False, zeroline=False,
        tickfont=dict(size=20, family=FONT, color="black"),
    )
    layout[ya] = dict(
        domain=[fy(y1), fy(y0)], anchor="x" + idx, range=YRANGE[panel],
        tickvals=YTICKS[panel], ticks="outside", ticklen=7, tickcolor="black", tickwidth=1,
        tickangle=-90,
        showline=True, linecolor="black", linewidth=1, showgrid=True, gridcolor=BG, gridwidth=2,
        zeroline=False,
        tickfont=dict(size=20, family=FONT, color="black"),
    )
    annotations.append(dict(text="Year", xref="paper", yref="paper", x=fx((x0 + x1) / 2), y=fy(y1 + 45),
                            xanchor="center", yanchor="middle", showarrow=False,
                            font=dict(size=21, family=FONT, color="black")))
    annotations.append(dict(text=panel, xref="paper", yref="paper", x=fx(x0 - 49), y=fy((y0 + y1) / 2),
                            xanchor="center", yanchor="middle", showarrow=False, textangle=-90,
                            font=dict(size=21, family=FONT, color="black")))
    for country in COUNTRIES:
        pts = DATA[panel][country]
        fig.add_trace(go.Scatter(
            x=[p[0] for p in pts], y=[p[1] for p in pts], mode="lines", name=country,
            line=dict(color=COLORS[country], width=2,
                      dash="14px,8px" if country in DASHED else "solid"),
            xaxis="x" + idx, yaxis="y" + idx,
            legend=legend_of[country], legendgroup=country, showlegend=(k == 0),
            hoverinfo="skip",
        ))

for i in range(4):
    key = "legend" if i == 0 else "legend%d" % (i + 1)
    layout[key] = dict(
        x=fx(LEGEND_X[i] - 13), y=fy(671), xanchor="left", yanchor="top",
        orientation="v", bgcolor="rgba(0,0,0,0)", borderwidth=0,
        font=dict(size=25, family=FONT, color="black"),
        itemwidth=85, tracegroupgap=9, itemclick=False, itemdoubleclick=False,
    )

layout["annotations"] = annotations
layout["shapes"] = [
    dict(type="rect", xref="paper", yref="paper", x0=0, x1=1, y0=fy(11), y1=1,
         fillcolor="white", line=dict(width=0), layer="below"),
    dict(type="rect", xref="paper", yref="paper", x0=0, x1=fx(11), y0=0, y1=1,
         fillcolor="white", line=dict(width=0), layer="below"),
    dict(type="rect", xref="paper", yref="paper", x0=fx(58), x1=fx(1212), y0=fy(895), y1=fy(668),
         fillcolor="white", line=dict(color="black", width=1.5), layer="below"),
]

fig.update_layout(**layout)
fig.write_html("out.html", config={"displayModeBar": False},
               post_script="document.body.style.margin='0';document.body.style.overflow='hidden';")
